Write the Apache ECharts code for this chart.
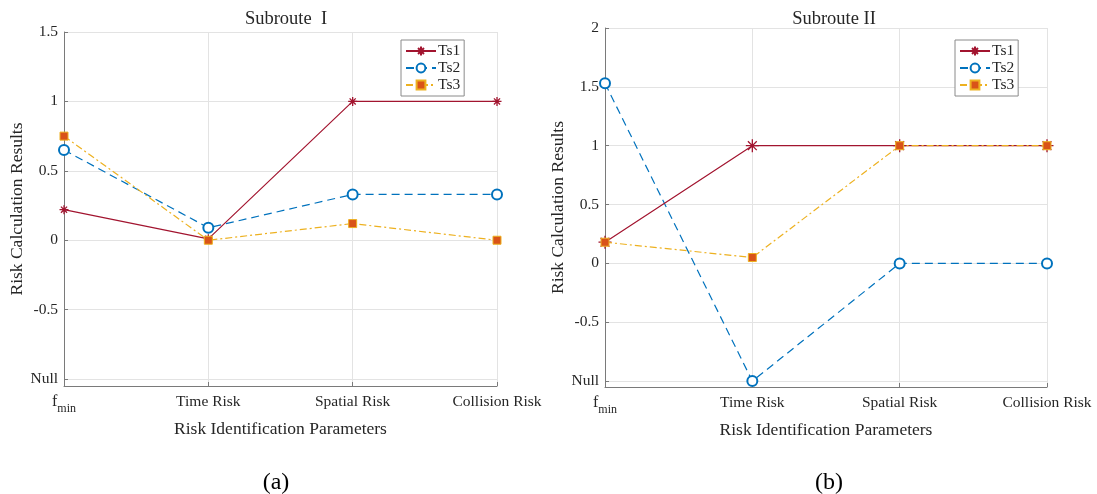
<!DOCTYPE html>
<html>
<head>
<meta charset="utf-8">
<script src="https://cdn.jsdelivr.net/npm/echarts@6/dist/echarts.min.js"></script>
<style>
html,body{margin:0;padding:0;background:#fff;}
#c{width:1097px;height:494px;}
</style>
</head>
<body>
<div id="c"></div>
<script>
// ---- data ----
const categories = ['fmin', 'Time Risk', 'Spatial Risk', 'Collision Risk'];
const yTickValues = [-1, -0.5, 0, 0.5, 1, 1.5];
const yTickValuesB = [-1, -0.5, 0, 0.5, 1, 1.5, 2];
const nullValue = -1;
const seriesNames = ['Ts1', 'Ts2', 'Ts3'];
// Subroute I
const a_Ts1 = [0.22, 0.01, 1, 1];
const a_Ts2 = [0.65, 0.09, 0.33, 0.33];
const a_Ts3 = [0.75, 0, 0.12, 0];
// Subroute II
const b_Ts1 = [0.18, 1, 1, 1];
const b_Ts2 = [1.53, -1, 0, 0];
const b_Ts3 = [0.18, 0.05, 1, 1];

const FONT = 'Liberation Serif';
const AXIS_COLOR = '#7a7a7a';
const GRID_COLOR = '#e3e3e3';
const RED = '#A2142F', BLUE = '#0072BD', YEL = '#EDB120', ORG = '#D95319';
const STAR = 'path://M5,0L5,10M0,5L10,5M1.6,1.6L8.4,8.4M1.6,8.4L8.4,1.6';

function xAxis(gi) {
  return {
    type: 'category', gridIndex: gi, data: categories, boundaryGap: false,
    name: 'Risk Identification Parameters', nameLocation: 'middle', nameGap: 34,
    nameTextStyle: {fontFamily: FONT, fontSize: 17.5, color: '#262626'},
    axisLine: {onZero: false, lineStyle: {color: AXIS_COLOR, width: 1}},
    axisTick: {inside: true, length: 4, lineStyle: {color: AXIS_COLOR}, alignWithLabel: true},
    axisLabel: {
      fontFamily: FONT, fontSize: 15.5, color: '#262626', margin: 8,
      formatter: v => v === 'fmin' ? '{f|f}{s|min}' : v,
      rich: {
        f: {fontFamily: FONT, fontSize: 16, color: '#262626', verticalAlign: 'top'},
        s: {fontFamily: FONT, fontSize: 12, color: '#262626', verticalAlign: 'top', padding: [9, 0, 0, 0]}
      }
    },
    splitLine: {show: true, lineStyle: {color: GRID_COLOR, width: 1}}
  };
}
function yAxis(gi, max, ticks) {
  return {
    type: 'value', gridIndex: gi, min: -1.05, max: max,
    name: 'Risk Calculation Results', nameLocation: 'middle', nameGap: 37,
    nameTextStyle: {fontFamily: FONT, fontSize: 17.5, color: '#262626'},
    axisLine: {show: true, onZero: false, lineStyle: {color: AXIS_COLOR, width: 1}},
    axisTick: {show: true, inside: true, length: 4, lineStyle: {color: AXIS_COLOR}, customValues: ticks},
    axisLabel: {
      fontFamily: FONT, fontSize: 15.5, color: '#262626', margin: 6, customValues: ticks,
      formatter: v => (Math.abs(v - nullValue) < 1e-9 ? 'Null' : String(v))
    },
    splitLine: {show: true, lineStyle: {color: GRID_COLOR, width: 1}}
  };
}
function mkSeries(gi, d1, d2, d3, big) {
  return [
    {name: 'Ts1', type: 'line', xAxisIndex: gi, yAxisIndex: gi, data: d1,
     symbol: STAR, symbolSize: big ? 13 : 9,
     lineStyle: {color: RED, width: 1.2, type: 'solid'},
     itemStyle: {color: RED, borderColor: RED, borderWidth: 1.3}, z: 3},
    {name: 'Ts2', type: 'line', xAxisIndex: gi, yAxisIndex: gi, data: d2,
     symbol: 'emptyCircle', symbolSize: 10,
     lineStyle: {color: BLUE, width: 1.2, type: [8, 5]},
     itemStyle: {color: BLUE, borderColor: BLUE, borderWidth: 1.1}, z: 2},
    {name: 'Ts3', type: 'line', xAxisIndex: gi, yAxisIndex: gi, data: d3,
     symbol: 'rect', symbolSize: 8,
     lineStyle: {color: YEL, width: 1.2, type: [7, 3, 2, 3]},
     itemStyle: {color: ORG, borderColor: YEL, borderWidth: 1}, z: 4}
  ];
}
function legend(left, top) {
  return {
    data: seriesNames, orient: 'vertical', left: left, top: top,
    itemWidth: 30, itemHeight: 11, itemGap: 1,
    padding: [3, 4, 3, 4], borderColor: '#8a8a8a', borderWidth: 1,
    backgroundColor: '#fff',
    textStyle: {fontFamily: FONT, fontSize: 15.5, color: '#262626', padding: [0, 0, 0, -3]},
    selectedMode: false
  };
}

const chart = echarts.init(document.getElementById('c'), null, {renderer: 'canvas'});
const s1 = mkSeries(0, a_Ts1, a_Ts2, a_Ts3, false);
const s2 = mkSeries(1, b_Ts1, b_Ts2, b_Ts3, true);
chart.setOption({
  animation: false,
  backgroundColor: '#fff',
  title: [
    {text: 'Subroute  I', left: 281, top: 5, textAlign: 'center',
     textStyle: {fontFamily: FONT, fontSize: 18.5, fontWeight: 'normal', color: '#262626'}},
    {text: 'Subroute II', left: 829, top: 5, textAlign: 'center',
     textStyle: {fontFamily: FONT, fontSize: 18.5, fontWeight: 'normal', color: '#262626'}},
    {text: '(a)', left: 271, top: 466, textAlign: 'center',
     textStyle: {fontFamily: FONT, fontSize: 24, fontWeight: 'normal', color: '#000'}},
    {text: '(b)', left: 824, top: 466, textAlign: 'center',
     textStyle: {fontFamily: FONT, fontSize: 24, fontWeight: 'normal', color: '#000'}}
  ],
  legend: [legend(401, 40), legend(955, 40)],
  grid: [
    {left: 64, right: 600, top: 32, bottom: 108, containLabel: false},
    {left: 605, right: 50, top: 28, bottom: 107, containLabel: false}
  ],
  xAxis: [xAxis(0), xAxis(1)],
  yAxis: [yAxis(0, 1.5, yTickValues), yAxis(1, 2, yTickValuesB)],
  series: s1.concat(s2)
});
</script>
</body>
</html>
